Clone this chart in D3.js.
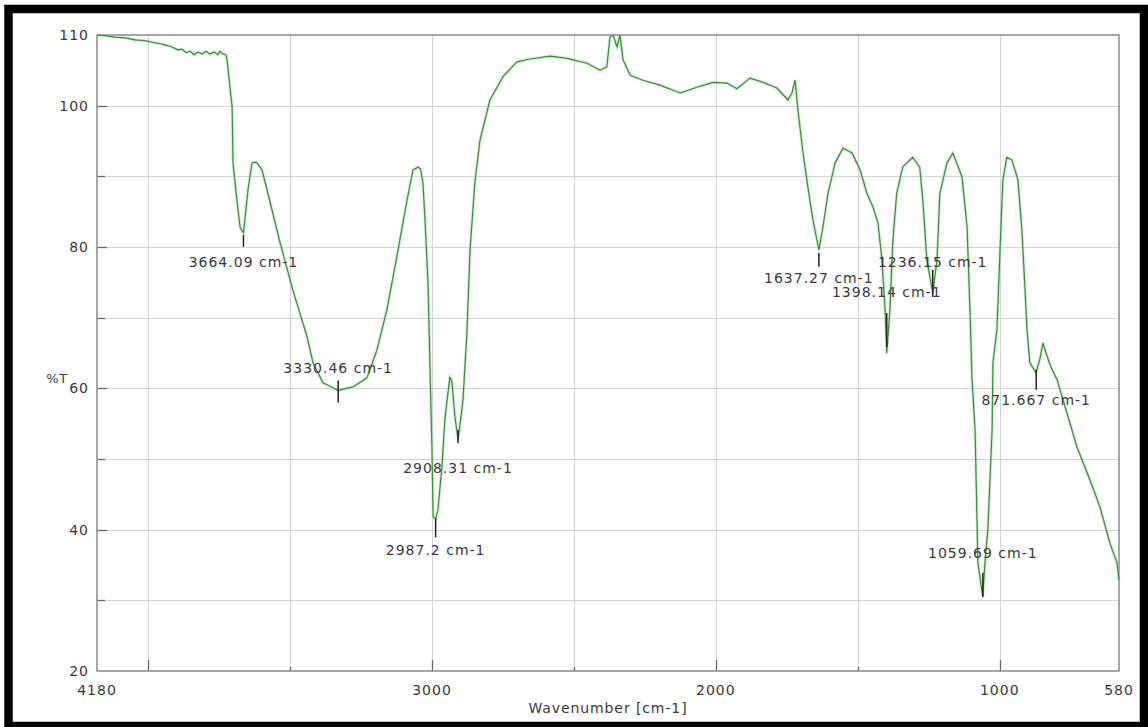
<!DOCTYPE html>
<html><head><meta charset="utf-8">
<script src="https://cdn.jsdelivr.net/npm/d3@7"></script>
<style>body{margin:0;background:#fff}svg{display:block}</style>
</head><body>
<svg id="c" width="1148" height="727"></svg>
<script>
// ---- data ----
const spectrum = [
  [4180,110],[4152,109.9],[4117,109.7],[4081,109.6],[4046,109.3],[4011,109.2],[3976,108.9],[3940,108.6],
  [3916,108.3],[3895,107.9],[3881,108.0],[3866,107.5],[3852,107.7],[3838,107.2],[3824,107.6],[3810,107.3],
  [3796,107.7],[3782,107.3],[3768,107.6],[3754,107.2],[3747,107.7],[3736,107.3],[3726,107.2],[3722,106.5],
  [3704,99.8],[3701,91.9],[3687,86.6],[3676,82.8],[3669,82.3],[3664,82.0],[3648,88.1],[3634,91.9],
  [3625,92.0],[3616,91.9],[3599,90.9],[3581,88.1],[3535,80.6],[3490,73.9],[3440,67.3],[3419,63.6],
  [3384,60.8],[3335,59.8],[3330,59.7],[3278,60.2],[3229,61.5],[3194,65.4],[3159,71.1],[3123,78.8],
  [3088,86.6],[3067,90.9],[3049,91.3],[3040,91.0],[3032,89.1],[3025,84.2],[3014,74.9],[3007,63.0],
  [3000,51.3],[2996,41.8],[2987,41.6],[2979,42.8],[2965,48.9],[2954,55.9],[2937,61.6],[2930,61.0],
  [2919,55.9],[2908,52.7],[2891,58.3],[2877,67.8],[2866,79.6],[2849,89.1],[2831,95.1],[2796,100.8],
  [2750,104.1],[2701,106.2],[2655,106.6],[2584,107.0],[2524,106.7],[2454,106.0],[2408,105.0],[2384,105.5],
  [2373,109.7],[2362,110],[2348,108.3],[2338,110],[2327,106.5],[2302,104.3],[2257,103.6],[2197,102.9],
  [2126,101.8],[2067,102.6],[2010,103.3],[1961,103.2],[1926,102.4],[1880,103.9],[1834,103.3],[1785,102.5],
  [1746,100.8],[1732,101.8],[1721,103.6],[1711,99.4],[1693,93.3],[1676,88.5],[1658,83.8],[1637,79.6],
  [1623,82.8],[1605,87.6],[1580,91.9],[1552,94.0],[1520,93.3],[1492,90.9],[1468,87.6],[1447,85.7],
  [1429,83.4],[1415,78.2],[1404,71.1],[1398,65.0],[1387,71.1],[1377,80.6],[1363,87.6],[1342,91.3],
  [1307,92.7],[1282,91.3],[1271,86.6],[1257,78.2],[1236,73.5],[1221,78.2],[1211,87.6],[1186,91.9],
  [1165,93.3],[1133,89.9],[1115,82.8],[1105,71.1],[1098,61.6],[1087,54.1],[1077,35.3],[1060,30.5],
  [1052,35.3],[1042,40.0],[1027,54.1],[1024,63.6],[1010,68.3],[999,79.6],[989,89.5],[975,92.7],
  [957,92.3],[936,89.5],[922,82.4],[911,73.9],[904,68.3],[894,63.6],[872,62.2],[858,64.3],
  [848,66.4],[823,63.3],[798,61.2],[728,51.7],[682,47.0],[647,43.2],[612,38.1],[587,35.3],[580,32.9]
];
const peakWavenumbers = [3664.09, 3330.46, 2987.2, 2908.31, 1637.27, 1398.14, 1236.15, 1059.69, 871.667];
const peakTransmittance = [82.0, 59.7, 41.6, 52.7, 79.6, 65.0, 73.5, 30.5, 62.2];
const peakLabels = ["3664.09 cm-1","3330.46 cm-1","2987.2 cm-1","2908.31 cm-1","1637.27 cm-1",
                    "1398.14 cm-1","1236.15 cm-1","1059.69 cm-1","871.667 cm-1"];
const xTickLabels = [4180, 3000, 2000, 1000, 580];
const yTickLabels = [110, 100, 80, 60, 40, 20];
const xGridValues = [4000, 3500, 3000, 2500, 2000, 1500, 1000];
const yGridValues = [100, 90, 80, 70, 60, 50, 40, 30];

// ---- layout (pixels) ----
const labelDy = [34, -17, 37, 33, 33, -56, -26, -39, 32];
const markerSpan = [[2,14],[-10,12],[0,19],[-10,3],[3,17],[-40,-6],[-23,4],[-24,0],[-3,17]];

const W = 1148, H = 727;
const M = {left: 97, right: 1119, top: 35, bottom: 671};
const svg = d3.select("#c");
const font = "DejaVu Sans, Verdana, sans-serif";
const txt = "#3a3a3a";

const x = d3.scaleLinear().domain([4180, 580]).range([M.left, M.right]);
const y = d3.scaleLinear().domain([20, 110]).range([M.bottom, M.top]);

svg.append("rect").attr("width", W).attr("height", H).attr("fill", "#fff");

// grid
const g = svg.append("g");
g.selectAll(".gx").data(xGridValues).join("line")
  .attr("x1", d => Math.round(x(d)) + 0.5).attr("x2", d => Math.round(x(d)) + 0.5)
  .attr("y1", M.top).attr("y2", M.bottom).attr("stroke", "#d4d4d4").attr("stroke-width", 1);
g.selectAll(".gy").data(yGridValues).join("line")
  .attr("y1", d => Math.round(y(d)) + 0.5).attr("y2", d => Math.round(y(d)) + 0.5)
  .attr("x1", M.left).attr("x2", M.right).attr("stroke", "#d4d4d4").attr("stroke-width", 1);

// ticks (inward)
g.selectAll(".tx").data(xGridValues).join("line")
  .attr("x1", d => Math.round(x(d)) + 0.5).attr("x2", d => Math.round(x(d)) + 0.5)
  .attr("y1", M.bottom).attr("y2", d => M.bottom - (d % 1000 === 0 ? 11 : 4))
  .attr("stroke", "#666").attr("stroke-width", 1.3);
g.selectAll(".ty").data(yGridValues).join("line")
  .attr("y1", d => Math.round(y(d)) + 0.5).attr("y2", d => Math.round(y(d)) + 0.5)
  .attr("x1", M.left).attr("x2", d => M.left + (yTickLabels.includes(d) ? 10 : 8))
  .attr("stroke", "#666").attr("stroke-width", 1.3);

// plot frame
svg.append("rect").attr("x", M.left).attr("y", M.top)
  .attr("width", M.right - M.left).attr("height", M.bottom - M.top)
  .attr("fill", "none").attr("stroke", "#8a8a8a").attr("stroke-width", 1.5);

// tick labels
svg.selectAll(".xl").data(xTickLabels).join("text")
  .attr("x", d => x(d)).attr("y", 695).attr("text-anchor", "middle")
  .attr("font-family", font).attr("font-size", 14).attr("letter-spacing", 1)
  .attr("fill", txt).text(d => d);
svg.selectAll(".yl").data(yTickLabels).join("text")
  .attr("x", 89).attr("y", d => y(d) + 5).attr("text-anchor", "end")
  .attr("font-family", font).attr("font-size", 14).attr("letter-spacing", 1)
  .attr("fill", txt).text(d => d);

svg.append("text").attr("x", (M.left + M.right) / 2).attr("y", 713).attr("text-anchor", "middle")
  .attr("font-family", font).attr("font-size", 14).attr("letter-spacing", 0.9)
  .attr("fill", txt).text("Wavenumber [cm-1]");
svg.append("text").attr("x", 57).attr("y", 383).attr("text-anchor", "middle")
  .attr("font-family", font).attr("font-size", 13).attr("letter-spacing", 0.5)
  .attr("fill", txt).text("%T");

// spectrum
const line = d3.line().x(d => x(d[0])).y(d => y(d[1]));
svg.append("path").datum(spectrum).attr("d", line)
  .attr("fill", "none").attr("stroke", "#a8dca8").attr("stroke-width", 3).attr("opacity", 0.5);
svg.append("path").datum(spectrum).attr("d", line)
  .attr("fill", "none").attr("stroke", "#3a8e3a").attr("stroke-width", 1.2)
  .attr("stroke-linejoin", "round");

// peak markers and labels
const peaks = peakWavenumbers.map((wn, i) => ({wn, t: peakTransmittance[i], label: peakLabels[i], i}));
svg.selectAll(".pm").data(peaks).join("line")
  .attr("x1", d => x(d.wn)).attr("x2", d => x(d.wn))
  .attr("y1", d => y(d.t) + markerSpan[d.i][0]).attr("y2", d => y(d.t) + markerSpan[d.i][1])
  .attr("stroke", "#222").attr("stroke-width", 1.5);
svg.selectAll(".pl").data(peaks).join("text")
  .attr("x", d => x(d.wn)).attr("y", d => y(d.t) + labelDy[d.i])
  .attr("text-anchor", "middle").attr("font-family", font).attr("font-size", 14)
  .attr("letter-spacing", 1).attr("fill", txt).text(d => d.label);

// outer black frame
svg.append("rect").attr("x", 8.5).attr("y", 9).attr("width", 1135.5).attr("height", 717)
  .attr("fill", "none").attr("stroke", "#000").attr("stroke-width", 8.5);
</script>
</body></html>
